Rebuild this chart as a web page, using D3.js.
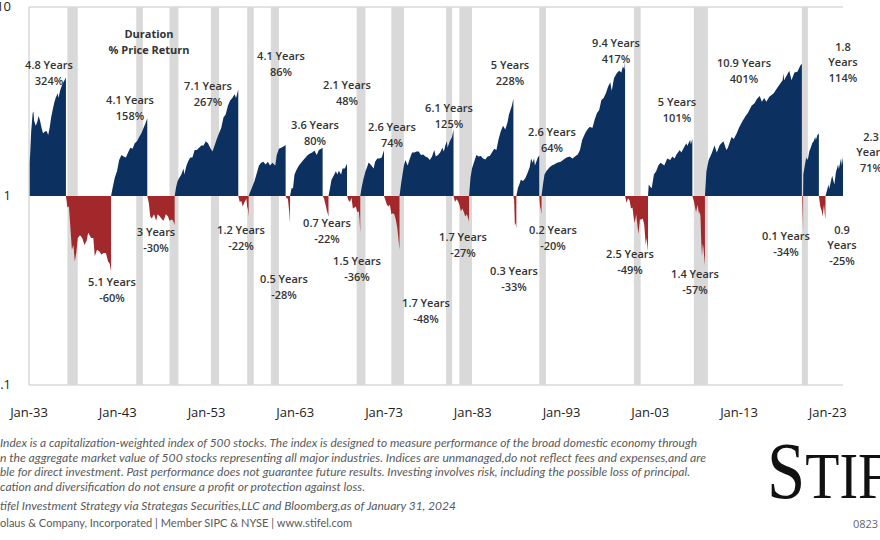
<!DOCTYPE html>
<html>
<head>
<meta charset="utf-8">
<script src="https://cdn.jsdelivr.net/npm/d3@7/dist/d3.min.js"></script>
<style>
  html, body { margin: 0; padding: 0; background: #fff; }
  svg { display: block; }
</style>
</head>
<body>
<svg id="chart" width="880" height="540"></svg>
<script>
// ---------------- DATA ----------------
// Bull markets: cumulative multiple of the starting level
const bull1932 = [["1933-01",1.65],["1933-02",1.5],["1933-04",2.2],["1933-06",2.75],["1933-07",2.8],["1933-08",2.5],["1933-10",2.35],["1933-12",2.45],["1934-02",2.65],["1934-04",2.5],["1934-06",2.3],["1934-08",2.15],["1934-11",2.2],["1935-01",2.2],["1935-03",2.1],["1935-05",2.3],["1935-07",2.6],["1935-09",2.85],["1935-11",3.1],["1936-01",3.3],["1936-04",3.5],["1936-05",3.3],["1936-07",3.6],["1936-09",3.8],["1936-11",3.96],["1937-01",4.1],["1937-03",4.24]];
const bull1942 = [["1942-04",1],["1942-06",1.1],["1942-09",1.25],["1942-12",1.35],["1943-03",1.55],["1943-06",1.65],["1943-09",1.62],["1943-12",1.6],["1944-03",1.7],["1944-06",1.8],["1944-09",1.78],["1944-12",1.9],["1945-03",1.95],["1945-06",2.05],["1945-09",2.15],["1945-12",2.3],["1946-02",2.4],["1946-05",2.58]];
const bull1949 = [["1949-06",1],["1949-08",1.12],["1949-10",1.2],["1949-12",1.24],["1950-03",1.3],["1950-06",1.4],["1950-07",1.3],["1950-10",1.45],["1950-12",1.52],["1951-03",1.6],["1951-06",1.6],["1951-09",1.75],["1951-12",1.75],["1952-03",1.8],["1952-06",1.85],["1952-09",1.85],["1952-12",1.95],["1953-03",1.9],["1953-06",1.8],["1953-09",1.72],["1953-12",1.85],["1954-03",2.0],["1954-06",2.15],["1954-09",2.3],["1954-12",2.6],["1955-03",2.7],["1955-06",3.0],["1955-09",3.2],["1955-12",3.3],["1956-03",3.45],["1956-05",3.3],["1956-08",3.67]];
const bull1957 = [["1957-10",1],["1957-12",1.05],["1958-03",1.12],["1958-06",1.2],["1958-09",1.32],["1958-12",1.45],["1959-03",1.5],["1959-06",1.52],["1959-09",1.47],["1959-12",1.52],["1960-03",1.45],["1960-06",1.5],["1960-10",1.45],["1960-12",1.65],["1961-03",1.78],["1961-06",1.8],["1961-09",1.83],["1961-12",1.86]];
const bull1962 = [["1962-06",1],["1962-08",1.1],["1962-10",1.1],["1962-12",1.3],["1963-03",1.38],["1963-06",1.45],["1963-09",1.5],["1963-12",1.55],["1964-03",1.6],["1964-06",1.65],["1964-09",1.68],["1964-12",1.7],["1965-03",1.74],["1965-06",1.65],["1965-09",1.75],["1965-12",1.78],["1966-02",1.8]];
const bull1966 = [["1966-10",1],["1966-12",1.1],["1967-02",1.22],["1967-05",1.28],["1967-08",1.35],["1967-10",1.3],["1967-12",1.36],["1968-03",1.3],["1968-05",1.4],["1968-08",1.4],["1968-11",1.48]];
const bull1970 = [["1970-05",1],["1970-07",1.12],["1970-09",1.22],["1970-12",1.35],["1971-03",1.45],["1971-04",1.5],["1971-06",1.48],["1971-08",1.45],["1971-11",1.4],["1972-01",1.52],["1972-04",1.58],["1972-07",1.58],["1972-10",1.6],["1972-12",1.7],["1973-01",1.74]];
const bull1974 = [["1974-10",1],["1974-12",1.15],["1975-02",1.3],["1975-04",1.45],["1975-06",1.55],["1975-09",1.45],["1975-12",1.58],["1976-03",1.7],["1976-06",1.7],["1976-09",1.72],["1976-12",1.72],["1977-03",1.65],["1977-06",1.66],["1977-09",1.62],["1977-12",1.6],["1978-03",1.55],["1978-06",1.62],["1978-09",1.75],["1978-11",1.62],["1979-02",1.65],["1979-05",1.7],["1979-08",1.8],["1979-10",1.72],["1979-12",1.85],["1980-02",1.95],["1980-03",1.8],["1980-06",1.95],["1980-09",2.05],["1980-11",2.25]];
const bull1982 = [["1982-08",1],["1982-10",1.25],["1982-12",1.4],["1983-03",1.52],["1983-06",1.65],["1983-09",1.62],["1983-12",1.63],["1984-03",1.58],["1984-06",1.56],["1984-09",1.62],["1984-12",1.63],["1985-03",1.7],["1985-06",1.78],["1985-09",1.75],["1985-12",2.0],["1986-03",2.2],["1986-06",2.35],["1986-09",2.25],["1986-12",2.45],["1987-02",2.7],["1987-04",2.85],["1987-06",3.0],["1987-08",3.28]];
const bull1987 = [["1987-12",1],["1988-02",1.1],["1988-04",1.15],["1988-06",1.22],["1988-09",1.2],["1988-12",1.24],["1989-03",1.32],["1989-06",1.42],["1989-08",1.58],["1989-10",1.5],["1989-12",1.58],["1990-01",1.45],["1990-03",1.52],["1990-05",1.6],["1990-07",1.64]];
const bull1990 = [["1990-10",1],["1990-12",1.15],["1991-02",1.3],["1991-05",1.36],["1991-09",1.42],["1991-12",1.45],["1992-03",1.47],["1992-07",1.5],["1992-12",1.52],["1993-04",1.56],["1993-08",1.6],["1993-12",1.62],["1994-04",1.58],["1994-08",1.63],["1994-11",1.66],["1995-02",1.75],["1995-05",1.98],["1995-09",2.15],["1995-12",2.25],["1996-03",2.32],["1996-07",2.3],["1996-10",2.55],["1997-01",2.75],["1997-04",2.85],["1997-07",3.22],["1997-10",3.3],["1998-01",3.5],["1998-04",3.78],["1998-07",4.0],["1998-09",3.6],["1998-12",4.2],["1999-04",4.47],["1999-07",4.6],["1999-10",4.5],["1999-12",4.85],["2000-02",4.7],["2000-03",5.17]];
const bull2002 = [["2002-10",1],["2002-11",1.15],["2003-01",1.12],["2003-03",1.1],["2003-06",1.3],["2003-09",1.35],["2003-12",1.45],["2004-03",1.5],["2004-08",1.45],["2004-12",1.58],["2005-04",1.55],["2005-07",1.62],["2005-10",1.58],["2005-12",1.65],["2006-05",1.75],["2006-07",1.7],["2006-12",1.85],["2007-02",1.9],["2007-03",1.84],["2007-07",1.98],["2007-08",1.88],["2007-10",2.01]];
const bull2009 = [["2009-03",1],["2009-05",1.35],["2009-08",1.55],["2009-12",1.68],["2010-04",1.85],["2010-07",1.7],["2010-11",1.86],["2011-04",1.95],["2011-08",1.75],["2011-10",1.8],["2012-03",2.05],["2012-06",2.0],["2012-10",2.15],["2013-01",2.3],["2013-06",2.5],["2013-10",2.65],["2014-01",2.75],["2014-06",3.0],["2014-10",3.1],["2015-01",3.25],["2015-05",3.38],["2015-08",3.15],["2015-11",3.3],["2016-02",3.15],["2016-06",3.35],["2016-12",3.5],["2017-06",3.8],["2017-12",4.1],["2018-01",4.45],["2018-02",4.1],["2018-09",4.6],["2018-12",4.1],["2019-04",4.5],["2019-08",4.55],["2019-12",4.9],["2020-02",5.01]];
const bull2020 = [["2020-03-23",1],["2020-04",1.3],["2020-06",1.45],["2020-08",1.6],["2020-10",1.55],["2020-12",1.72],["2021-02",1.8],["2021-04",1.9],["2021-06",1.95],["2021-08",2.05],["2021-09",1.98],["2021-11",2.1],["2022-01",2.14]];
const bull2022 = [["2022-10",1],["2022-12",1.07],["2023-02",1.15],["2023-03",1.09],["2023-07",1.28],["2023-10",1.15],["2023-12",1.33],["2024-03",1.47],["2024-04",1.39],["2024-07",1.58],["2024-08",1.45],["2024-09-20",1.61]];

// Bear markets: cumulative multiple of the starting level
const bear1937 = [["1937-03",1],["1937-05",0.87],["1937-07",0.88],["1937-09",0.68],["1937-11",0.52],["1938-01",0.55],["1938-03",0.45],["1938-05",0.5],["1938-07",0.6],["1938-10",0.62],["1939-01",0.6],["1939-04",0.55],["1939-07",0.58],["1939-09",0.64],["1939-11",0.62],["1940-01",0.6],["1940-04",0.6],["1940-06",0.48],["1940-09",0.52],["1940-12",0.51],["1941-03",0.49],["1941-06",0.5],["1941-09",0.5],["1941-12",0.45],["1942-02",0.44],["1942-04",0.40]];
const bear1946 = [["1946-05",1],["1946-07",0.92],["1946-09",0.78],["1946-11",0.76],["1947-02",0.8],["1947-05",0.74],["1947-07",0.8],["1947-10",0.78],["1948-01",0.75],["1948-03",0.74],["1948-06",0.8],["1948-09",0.78],["1948-11",0.74],["1949-02",0.75],["1949-04",0.74],["1949-06",0.70]];
const bear1956 = [["1956-08",1],["1956-10",0.93],["1956-12",0.94],["1957-02",0.88],["1957-04",0.92],["1957-06",0.95],["1957-07",0.97],["1957-08",0.88],["1957-09",0.85],["1957-10",0.78]];
const bear1961 = [["1961-12",1],["1962-02",0.96],["1962-03",0.98],["1962-05",0.82],["1962-06",0.72]];
const bear1966 = [["1966-02",1],["1966-04",0.97],["1966-06",0.9],["1966-08",0.83],["1966-10",0.78]];
const bear1968 = [["1968-11",1],["1969-01",0.95],["1969-03",0.93],["1969-05",0.98],["1969-07",0.86],["1969-09",0.87],["1969-11",0.88],["1970-01",0.82],["1970-03",0.83],["1970-04",0.75],["1970-05",0.64]];
const bear1973 = [["1973-01",1],["1973-03",0.95],["1973-05",0.9],["1973-07",0.88],["1973-09",0.9],["1973-11",0.8],["1974-01",0.81],["1974-03",0.8],["1974-05",0.75],["1974-07",0.68],["1974-09",0.57],["1974-10",0.52]];
const bear1980 = [["1980-11",1],["1981-01",0.93],["1981-03",0.96],["1981-05",0.94],["1981-07",0.9],["1981-09",0.83],["1981-11",0.86],["1982-01",0.82],["1982-03",0.78],["1982-05",0.8],["1982-07",0.76],["1982-08",0.73]];
const bear1987 = [["1987-08",1],["1987-09",0.95],["1987-10",0.7],["1987-11",0.72],["1987-12",0.67]];
const bear1990 = [["1990-07",1],["1990-08",0.88],["1990-09",0.85],["1990-10",0.8]];
const bear2000 = [["2000-03",1],["2000-05",0.92],["2000-07",0.97],["2000-09",0.95],["2000-11",0.86],["2001-01",0.87],["2001-03",0.75],["2001-04",0.72],["2001-06",0.8],["2001-09",0.63],["2001-11",0.75],["2002-01",0.75],["2002-03",0.76],["2002-05",0.7],["2002-07",0.55],["2002-08",0.6],["2002-10",0.51]];
const bear2007 = [["2007-10",1],["2007-12",0.94],["2008-03",0.82],["2008-05",0.9],["2008-07",0.8],["2008-08",0.83],["2008-09",0.77],["2008-10",0.57],["2008-11",0.48],["2008-12",0.56],["2009-01",0.53],["2009-02",0.47],["2009-03",0.43]];
const bear2020 = [["2020-02-19",1],["2020-03-01",0.85],["2020-03-12",0.75],["2020-03-23",0.66]];
const bear2022 = [["2022-01",1],["2022-03",0.88],["2022-05",0.83],["2022-06",0.78],["2022-08",0.9],["2022-09",0.8],["2022-10",0.75]];

const bulls = [bull1932, bull1942, bull1949, bull1957, bull1962, bull1966, bull1970, bull1974, bull1982, bull1987, bull1990, bull2002, bull2009, bull2020, bull2022];
const bears = [bear1937, bear1946, bear1956, bear1961, bear1966, bear1968, bear1973, bear1980, bear1987, bear1990, bear2000, bear2007, bear2020, bear2022];

// Annotations
const bullYears  = [4.8, 4.1, 7.1, 4.1, 3.6, 2.1, 2.6, 6.1, 5, 2.6, 9.4, 5, 10.9, 1.8, 2.3];
const bullReturn = [324, 158, 267, 86, 80, 48, 74, 125, 228, 64, 417, 101, 401, 114, 71];
const bearYears  = [5.1, 3, 1.2, 0.5, 0.7, 1.5, 1.7, 1.7, 0.3, 0.2, 2.5, 1.4, 0.1, 0.9];
const bearReturn = [-60, -30, -22, -28, -22, -36, -48, -27, -33, -20, -49, -57, -34, -25];

// Recessions (shaded)
const recStart = ["1937-05","1945-02","1948-11","1953-07","1957-08","1960-04","1969-12","1973-11","1980-01","1981-07","1990-07","2001-03","2007-12","2020-02"];
const recEnd   = ["1938-06","1945-10","1949-10","1954-05","1958-04","1961-02","1970-11","1975-03","1980-07","1982-11","1991-03","2001-11","2009-06","2020-04"];

// Axis labels
const yTicks = [0.1, 1, 10];
const yTickLabels = ["0.1", "1", "10"];
const xTickYears = [1933, 1943, 1953, 1963, 1973, 1983, 1993, 2003, 2013, 2023];
const xTickLabels = ["Jan-33","Jan-43","Jan-53","Jan-63","Jan-73","Jan-83","Jan-93","Jan-03","Jan-13","Jan-23"];

const footLines = [
  "Index is a capitalization-weighted index of 500 stocks. The index is designed to measure performance of the broad domestic economy through",
  "n the aggregate market value of  500 stocks representing all major industries. Indices are unmanaged,do not reflect fees and expenses,and are",
  "ble for direct investment. Past performance does not guarantee future results. Investing involves risk, including the possible loss of principal.",
  "cation and diversification do not ensure a profit or protection against loss.",
  "tifel Investment Strategy via Strategas Securities,LLC  and Bloomberg,as of January 31, 2024"
];
const footLast = "olaus & Company, Incorporated | Member SIPC & NYSE | www.stifel.com";

// ---------------- LAYOUT ----------------
const parseM = d3.timeParse("%Y-%m");
const parseD = d3.timeParse("%Y-%m-%d");
const parse = s => s.length === 7 ? parseM(s) : parseD(s);
const toPts = arr => arr.map(([d, v]) => ({ date: parse(d), v }));

const plot = { left: 29, right: 843, top: 7, bottom: 385 };
const COLORS = { bull: "#0c3160", bear: "#a3282c", rec: "#d9d9d9", frame: "#d9d9d9", text: "#333333" };

const lastBull = bull2022[bull2022.length - 1][0];
const x = d3.scaleTime()
  .domain([parse("1933-01"), parse(lastBull)])
  .range([plot.left, plot.right]);
const y = d3.scaleLog()
  .domain([0.1, 10])
  .range([plot.bottom, plot.top]);

const svg = d3.select("#chart");
svg.append("rect").attr("width", 880).attr("height", 540).attr("fill", "#fff");

// recession shading
const recG = svg.append("g");
recStart.forEach((s, i) => {
  const x0 = x(parse(s));
  const x1 = x(d3.timeMonth.offset(parse(recEnd[i]), 1));
  recG.append("rect")
    .attr("x", x0).attr("y", plot.top)
    .attr("width", Math.max(x1 - x0, 6))
    .attr("height", plot.bottom - plot.top)
    .attr("fill", COLORS.rec);
});

// areas
const area = d3.area()
  .x(d => x(d.date))
  .y0(y(1))
  .y1(d => y(d.v))
  .curve(d3.curveLinear);

svg.append("g").selectAll("path.bull").data(bulls).join("path")
  .attr("class", "bull").attr("d", d => area(toPts(d))).attr("fill", COLORS.bull);
svg.append("g").selectAll("path.bear").data(bears).join("path")
  .attr("class", "bear").attr("d", d => area(toPts(d))).attr("fill", COLORS.bear);

// frame
const fr = svg.append("g").attr("stroke", COLORS.frame).attr("stroke-width", 1.5).attr("fill", "none");
fr.append("line").attr("x1", plot.left).attr("x2", plot.right).attr("y1", plot.top).attr("y2", plot.top);
fr.append("line").attr("x1", plot.left).attr("x2", plot.right).attr("y1", plot.bottom).attr("y2", plot.bottom);
fr.append("line").attr("x1", plot.left).attr("x2", plot.left).attr("y1", plot.top).attr("y2", plot.bottom);

// y tick labels
svg.append("g").selectAll("text").data(yTicks).join("text")
  .attr("x", 11).attr("y", d => y(d) + 1)
  .attr("text-anchor", "end").attr("dominant-baseline", "middle")
  .attr("font-family", "'Open Sans', sans-serif").attr("font-size", 13)
  .attr("fill", "#222")
  .text((d, i) => yTickLabels[i]);

// x tick labels
svg.append("g").selectAll("text").data(xTickYears).join("text")
  .attr("x", d => x(new Date(d, 0, 1)))
  .attr("y", 417)
  .attr("text-anchor", "middle")
  .attr("font-family", "'Open Sans', sans-serif").attr("font-size", 13)
  .attr("fill", "#222")
  .text((d, i) => xTickLabels[i]);

// annotation placement (px)
const bullLabelPos = [[49,66],[130,101],[208,87],[281,57],[315,126],[347,86],[392,128],[449,109],[510,66],[552,133],[616,44],[677,103],[744,64],[843,48],[871,138]];
const bearLabelPos = [[112,283],[156,233],[241,231],[284,280],[327,224],[357,262],[426,304],[463,238],[514,272],[553,231],[630,255],[695,275],[786,237],[842,231]];
const threeLineBull = [13, 14];
const threeLineBear = [13];

const annG = svg.append("g")
  .attr("font-family", "'Open Sans', sans-serif")
  .attr("font-size", 11).attr("font-weight", 600)
  .attr("fill", COLORS.text).attr("text-anchor", "middle");

function addLabel(lines, cx, cy, lh) {
  lines.forEach((t, j) => {
    annG.append("text").attr("x", cx).attr("y", cy + j * lh)
      .attr("dominant-baseline", "middle").text(t);
  });
}
bullYears.forEach((yr, i) => {
  const lines = threeLineBull.includes(i)
    ? [String(yr), "Years", bullReturn[i] + "%"]
    : [yr + " Years", bullReturn[i] + "%"];
  addLabel(lines, bullLabelPos[i][0], bullLabelPos[i][1], threeLineBull.includes(i) ? 15.5 : 16);
});
bearYears.forEach((yr, i) => {
  const lines = threeLineBear.includes(i)
    ? [String(yr), "Years", bearReturn[i] + "%"]
    : [yr + " Years", bearReturn[i] + "%"];
  addLabel(lines, bearLabelPos[i][0], bearLabelPos[i][1], threeLineBear.includes(i) ? 15.5 : 16);
});

// chart title annotation
svg.append("g").attr("font-family", "'Open Sans', sans-serif").attr("font-size", 11)
  .attr("font-weight", 700).attr("fill", COLORS.text).attr("text-anchor", "middle")
  .selectAll("text").data(["Duration", "% Price Return"]).join("text")
  .attr("x", 149).attr("y", (d, i) => 35 + i * 16)
  .attr("dominant-baseline", "middle").text(d => d);

// footnotes
const footY = [446.5, 461.5, 476, 490.5, 509.5];
const footW = [697, 706, 690, 365, 456];
const footG = svg.append("g").attr("font-family", "Lato, 'Open Sans', sans-serif")
  .attr("font-size", 11).attr("font-style", "italic").attr("fill", "#5a5a5a");
footLines.forEach((t, i) => {
  footG.append("text").attr("x", 0).attr("y", footY[i])
    .attr("textLength", footW[i]).attr("lengthAdjust", "spacingAndGlyphs").text(t);
});
svg.append("text").attr("x", 0).attr("y", 527)
  .attr("font-family", "Lato, 'Open Sans', sans-serif").attr("font-size", 11)
  .attr("fill", "#5a5a5a").attr("textLength", 352).attr("lengthAdjust", "spacingAndGlyphs")
  .text(footLast);

// logo
const logo = svg.append("text")
  .attr("transform", "translate(767,498) scale(0.86,1)")
  .attr("font-family", "'Liberation Serif', 'DejaVu Serif', serif")
  .attr("fill", "#111");
logo.append("tspan").attr("font-size", 80).text("S");
logo.append("tspan").attr("font-size", 65).text("TIFEL");

svg.append("text").attr("x", 853).attr("y", 528)
  .attr("font-family", "'Open Sans', sans-serif").attr("font-size", 11)
  .attr("fill", "#666").text("0823");
</script>
</body>
</html>
